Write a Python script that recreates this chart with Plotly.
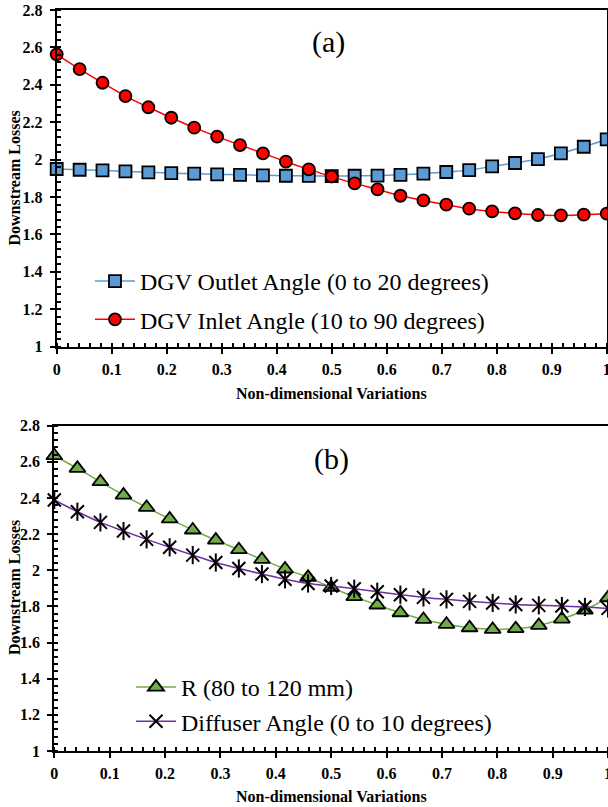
import plotly.graph_objects as go

# ---- data ----
x_vals = [0, 0.0417, 0.0833, 0.125, 0.1667, 0.2083, 0.25, 0.2917, 0.3333, 0.375,
          0.4167, 0.4583, 0.5, 0.5417, 0.5833, 0.625, 0.6667, 0.7083, 0.75, 0.7917,
          0.8333, 0.875, 0.9167, 0.9583, 1]

dgv_outlet = [1.950, 1.946, 1.943, 1.937, 1.932, 1.928, 1.925, 1.921, 1.919, 1.916,
              1.914, 1.913, 1.912, 1.914, 1.915, 1.919, 1.925, 1.934, 1.944, 1.964,
              1.982, 2.003, 2.034, 2.069, 2.108]
dgv_inlet = [2.563, 2.484, 2.411, 2.340, 2.280, 2.224, 2.171, 2.123, 2.078, 2.034,
             1.989, 1.948, 1.910, 1.873, 1.841, 1.807, 1.782, 1.759, 1.738, 1.723,
             1.713, 1.704, 1.702, 1.706, 1.711]
r_vals = [2.634, 2.564, 2.490, 2.416, 2.348, 2.284, 2.223, 2.167, 2.114, 2.060,
          2.007, 1.961, 1.905, 1.854, 1.808, 1.765, 1.728, 1.701, 1.682, 1.673,
          1.677, 1.695, 1.730, 1.780, 1.848]
diffuser = [2.389, 2.324, 2.265, 2.217, 2.171, 2.127, 2.084, 2.043, 2.010, 1.979,
            1.950, 1.927, 1.913, 1.898, 1.881, 1.865, 1.850, 1.839, 1.828, 1.819,
            1.811, 1.806, 1.802, 1.797, 1.789]

names_a = ["DGV Outlet Angle (0 to 20 degrees)", "DGV Inlet Angle (10 to 90 degrees)"]
names_b = ["R (80 to 120 mm)", "Diffuser Angle (0 to 10 degrees)"]
y_ticks = [1, 1.2, 1.4, 1.6, 1.8, 2, 2.2, 2.4, 2.6, 2.8]
x_ticks = [0, 0.1, 0.2, 0.3, 0.4, 0.5, 0.6, 0.7, 0.8, 0.9, 1]

W, H = 608, 807
SERIF = "Liberation Serif"


def px(x):
    return x / W


def py(y):
    return 1 - y / H


fig = go.Figure()

fig.add_trace(go.Scatter(
    x=x_vals, y=dgv_outlet, name=names_a[0], mode="lines+markers",
    line=dict(color="#5B9BD5", width=1.5, shape="spline"),
    marker=dict(symbol="square", size=12, color="#5B9BD5", line=dict(color="black", width=1.8)),
    cliponaxis=False, xaxis="x", yaxis="y", legend="legend", legendgroup="a1"))
fig.add_trace(go.Scatter(
    x=x_vals, y=dgv_inlet, name=names_a[1], mode="lines+markers",
    line=dict(color="#FF0000", width=1.5, shape="spline"),
    marker=dict(symbol="circle", size=12, color="#FF0000", line=dict(color="black", width=1.8)),
    cliponaxis=False, xaxis="x", yaxis="y", legend="legend", legendgroup="a2"))

fig.add_trace(go.Scatter(
    x=x_vals, y=r_vals, name=names_b[0], mode="lines+markers",
    line=dict(color="#70AD47", width=1.5, shape="spline"),
    marker=dict(symbol="triangle-up", size=14, color="#70AD47", line=dict(color="black", width=1.8)),
    cliponaxis=False, xaxis="x2", yaxis="y2", legend="legend2", legendgroup="b1"))
fig.add_trace(go.Scatter(
    x=x_vals, y=diffuser, name=names_b[1], mode="lines+markers",
    line=dict(color="#7030A0", width=1.5, shape="spline"),
    marker=dict(symbol="x-thin-open", size=13, color="black", line=dict(color="black", width=2)),
    cliponaxis=False, xaxis="x2", yaxis="y2", legend="legend2", legendgroup="b2"))
fig.add_trace(go.Scatter(
    x=x_vals, y=diffuser, mode="markers", showlegend=False, hoverinfo="skip",
    marker=dict(symbol="line-ns-open", size=13, color="black", line=dict(color="black", width=2)),
    cliponaxis=False, xaxis="x2", yaxis="y2"))

tickfont = dict(family=SERIF, size=16, color="black", weight="bold")


def xax(domain, anchor, mirror):
    return dict(domain=domain, anchor=anchor, range=[0, 1], tickvals=x_ticks,
                showline=True, linecolor="black", linewidth=2, mirror=mirror,
                ticks="outside", ticklen=5, tickwidth=2, tickcolor="black",
                minor=dict(ticks="inside", dtick=0.02, ticklen=4, tickwidth=1.5, tickcolor="black"),
                showgrid=False, zeroline=False, tickfont=tickfont,
                ticklabeloverflow="allow",
                automargin=False, ticklabelstandoff=2, fixedrange=True)


def yax(domain, anchor, mirror):
    return dict(domain=domain, anchor=anchor, range=[1, 2.8], tickvals=y_ticks,
                showline=True, linecolor="black", linewidth=2, mirror=mirror,
                ticks="outside", ticklen=5, tickwidth=2, tickcolor="black",
                minor=dict(ticks="inside", dtick=0.04, ticklen=4, tickwidth=1.5, tickcolor="black"),
                showgrid=False, zeroline=False, tickfont=tickfont,
                ticklabeloverflow="allow",
                automargin=False, ticklabelstandoff=4, fixedrange=True)


legfont = dict(family=SERIF, size=24, color="black")
titlefont = dict(family=SERIF, size=16, color="black", weight="bold")
panelfont = dict(family=SERIF, size=30, color="black")

fig.update_layout(
    width=W, height=H,
    margin=dict(l=0, r=0, t=0, b=0),
    paper_bgcolor="white", plot_bgcolor="white",
    font=dict(family=SERIF),
    showlegend=True,
    xaxis=xax([px(56.7), px(606.7)], "y", True),
    yaxis=yax([py(346.7), py(10)], "x", True),
    xaxis2=xax([px(54.3), 1.0], "y2", True),
    yaxis2=yax([py(751), py(425.7)], "x2", False),
    legend=dict(x=px(90), y=py(259), xanchor="left", yanchor="top",
                font=legfont, bgcolor="rgba(0,0,0,0)", itemwidth=40,
                tracegroupgap=4),
    legend2=dict(x=px(131), y=py(665), xanchor="left", yanchor="top",
                 font=legfont, bgcolor="rgba(0,0,0,0)", itemwidth=40,
                 tracegroupgap=0),
    annotations=[
        dict(text="(a)", x=px(328), y=py(42.5), xref="paper", yref="paper",
             xanchor="center", yanchor="middle", showarrow=False, font=panelfont),
        dict(text="(b)", x=px(331.5), y=py(459), xref="paper", yref="paper",
             xanchor="center", yanchor="middle", showarrow=False, font=panelfont),
        dict(text="Downstream Losses", x=px(14), y=py(178.5), xref="paper", yref="paper",
             xanchor="center", yanchor="middle", showarrow=False, textangle=-90,
             font=titlefont),
        dict(text="Downstream Losses", x=px(14), y=py(588), xref="paper", yref="paper",
             xanchor="center", yanchor="middle", showarrow=False, textangle=-90,
             font=titlefont),
        dict(text="Non-dimensional Variations", x=px(331), y=py(393), xref="paper", yref="paper",
             xanchor="center", yanchor="middle", showarrow=False, font=titlefont),
        dict(text="Non-dimensional Variations", x=px(331), y=py(796), xref="paper", yref="paper",
             xanchor="center", yanchor="middle", showarrow=False, font=titlefont),
    ],
)

fig.write_html(
    "out.html",
    config={"displayModeBar": False},
    post_script="document.body.style.margin='0';document.body.style.overflow='hidden';",
)
